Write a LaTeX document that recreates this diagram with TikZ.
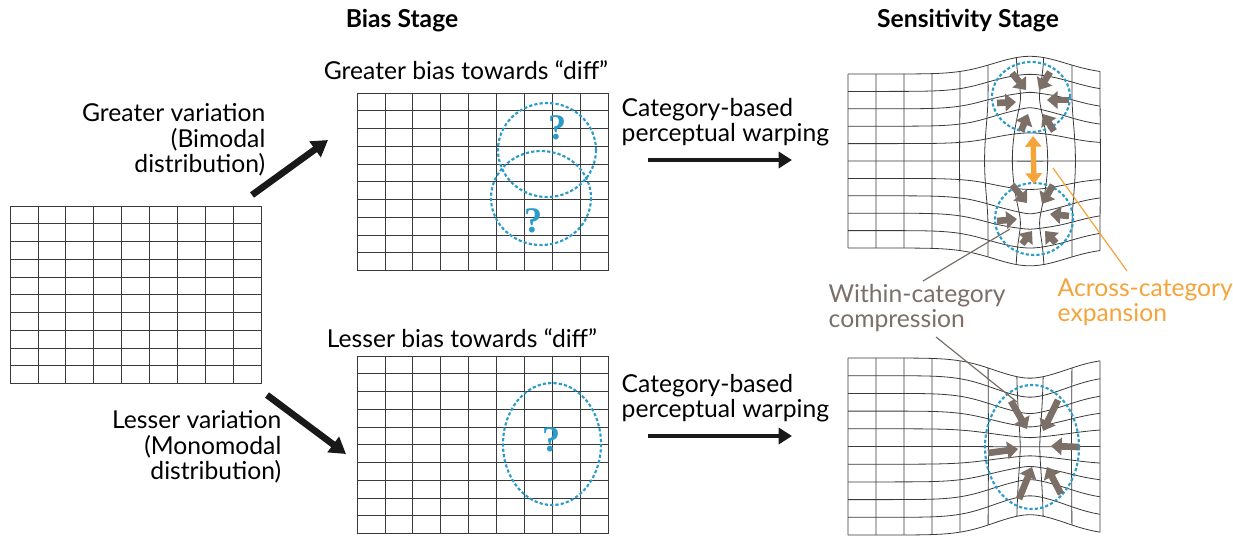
\documentclass[tikz,border=0pt]{standalone}
\usepackage{fontspec}
\setmainfont{Lato}
\newfontfamily\qfont{Liberation Serif}
\usepackage{xcolor}
\definecolor{catBlue}{HTML}{2B9BC9}
\definecolor{compBrown}{HTML}{7B6F67}
\definecolor{expOrange}{HTML}{F5A33B}
\definecolor{gridGray}{HTML}{3A3A3A}
\usetikzlibrary{arrows.meta,positioning,calc}

\begin{document}
\begin{tikzpicture}[x=0.75pt,y=-0.75pt,font=\fontsize{18.5}{19}\selectfont,
  gridline/.style={gridGray,line width=0.6pt},
  bigarrow/.style={-{Triangle[length=12pt,width=14pt]},line width=5pt,black!90},
  warparrow/.style={-{Triangle[length=10pt,width=12pt]},line width=3.6pt,black!90},
  catcircle/.style={catBlue,line width=1.6pt,dash pattern=on 2.4pt off 1.6pt},
  comparrow/.style={-{Triangle[length=8pt,width=13pt]},line width=5pt,compBrown},
  exparrow/.style={{Triangle[length=8pt,width=12pt]}-{Triangle[length=8pt,width=12pt]},line width=4pt,expOrange},
  callout/.style={line width=0.9pt},
  title/.style={font=\fontsize{18.5}{20}\selectfont\bfseries},
  qmark/.style={font=\qfont\fontsize{27}{27}\selectfont\bfseries,text=catBlue,inner sep=0pt},
  declare function={
    gs(\u,\s)=exp(-min((\u/\s)*(\u/\s),20));
    tdx(\a,\b)=0.35*(\a-1030)*gs(\a-1030,35)*gs(\b-161,40)-0.6*(\a-1030)*gs(\a-1030,22)*(gs(\b-116,25)+gs(\b-204,25));
    tdy(\a,\b)=0.5*(\b-161)*gs(\a-1030,50)*gs(\b-161,93)-0.4*gs(\a-1030,30)*((\b-116)*gs(\b-116,22)+(\b-204)*gs(\b-204,22));
    bdx(\a,\b)=-0.45*(\a-1030)*gs(\a-1030,22)*gs(\b-447,70);
    bdy(\a,\b)=-0.5*(\b-447)*gs(\a-1030,50)*gs(\b-447,100);
  }]
  \useasboundingbox (0,0) rectangle (1233,537);

  \node[title] (biast) at (402,21) {Bias Stage};
  \node[title] (senst) at (968,21) {Sensitivity Stage};

  % flat grids
  \foreach \gx/\gy in {10/206,357/93,357/356}{
    \foreach \i in {0,...,9} \draw[gridline] (\gx+\i*27.9,\gy) -- (\gx+\i*27.9,\gy+177.5);
    \foreach \j in {0,...,10} \draw[gridline] (\gx,\gy+\j*17.75) -- (\gx+251,\gy+\j*17.75);
  }

  % warped grids
  \foreach \j in {0,...,10}{
    \pgfmathsetmacro{\yy}{74+17.4*\j}
    \draw[gridline] plot[variable=\t,domain=848:1100,samples=64] ({\t+tdx(\t,\yy)},{\yy+tdy(\t,\yy)});
    \pgfmathsetmacro{\yb}{358+17.7*\j}
    \draw[gridline] plot[variable=\t,domain=848:1100,samples=64] ({\t+bdx(\t,\yb)},{\yb+bdy(\t,\yb)});
  }
  \foreach \i in {0,...,9}{
    \pgfmathsetmacro{\xx}{848+28*\i}
    \draw[gridline] plot[variable=\t,domain=74:248,samples=48] ({\xx+tdx(\xx,\t)},{\t+tdy(\xx,\t)});
    \draw[gridline] plot[variable=\t,domain=358:535,samples=48] ({\xx+bdx(\xx,\t)},{\t+bdy(\xx,\t)});
  }

  \node (gvar) [anchor=east,align=right] at (270,140) {Greater variation\\(Bimodal\\distribution)};
  \node (lvar) [anchor=east,align=right] at (286,447) {Lesser variation\\(Monomodal\\distribution)};
  \coordinate (up0) at (252,195);
  \coordinate (up1) at (328,140);
  \coordinate (dn0) at (267,395);
  \coordinate (dn1) at (346,454);
  \draw[bigarrow] (up0) -- (up1);
  \draw[bigarrow] (dn0) -- (dn1);

  \node (gbias) at (466,70) {Greater bias towards “diff”};
  \node (lbias) at (462,338) {Lesser bias towards “diff”};
  \draw[catcircle] (547,150) ellipse [x radius=49,y radius=47];
  \draw[catcircle] (541,198) ellipse [x radius=50,y radius=47];
  \draw[catcircle] (552,444) ellipse [x radius=49,y radius=61];
  \node[qmark] (q1) at (557,128) {?};
  \node[qmark] (q2) at (533,221) {?};
  \node[qmark] (q3) at (551,440) {?};

  \node (warp1) [anchor=west,align=left] at (617,122) {Category-based\\perceptual warping};
  \node (warp2) [anchor=west,align=left] at (617,398) {Category-based\\perceptual warping};
  \coordinate (wa0) at (648,160);
  \coordinate (wa1) at (792,160);
  \coordinate (wb0) at (648,436);
  \coordinate (wb1) at (792,436);
  \draw[warparrow] (wa0) -- (wa1);
  \draw[warparrow] (wb0) -- (wb1);

  \coordinate (c1) at (1031,97);
  \coordinate (c2) at (1034,219);
  \coordinate (c3) at (1032,447);
  \draw[catcircle] (c1) ellipse [x radius=39,y radius=35];
  \draw[catcircle] (c2) ellipse [x radius=39,y radius=36];
  \draw[catcircle] (c3) ellipse [x radius=47,y radius=62];
  \foreach \ax/\ay/\bx/\by in {-19/-24/-5/-7,19/-25/8/-7,-34/6/-15/5,38/3/16/3,-10/34/-3/17,23/34/12/17}
    \draw[comparrow] ([shift={(\ax,\ay)}]c1) -- ([shift={(\bx,\by)}]c1);
  \foreach \ax/\ay/\bx/\by in {-22/-34/-7/-16,19/-34/8/-15,-37/2/-17/0,35/-3/16/-5,-12/25/-2/12,22/24/11/12}
    \draw[comparrow] ([shift={(\ax,\ay)}]c2) -- ([shift={(\bx,\by)}]c2);
  \foreach \ax/\ay/\bx/\by in {-21/-46/-5/-18,26/-47/11/-16,-44/6/-14/2,47/0/19/-1,-13/52/0/20,29/47/15/20}
    \draw[comparrow] ([shift={(\ax,\ay)}]c3) -- ([shift={(\bx,\by)}]c3);
  \coordinate (ex0) at (1033,136);
  \coordinate (ex1) at (1034,184);
  \draw[exparrow] (ex0) -- (ex1);

  \node (within) [anchor=west,align=left,text=compBrown] at (824,308) {Within-category\\compression};
  \node (across) [anchor=west,align=left,text=expOrange] at (1053,302) {Across-category\\expansion};
  \coordinate (wt0) at (923,281);
  \coordinate (wt1) at (1010,229);
  \coordinate (wt2) at (936,337);
  \coordinate (wt3) at (1017,402);
  \coordinate (ac0) at (1127,271);
  \coordinate (ac1) at (1053,168);
  \draw[callout,compBrown] (wt0) -- (wt1);
  \draw[callout,compBrown] (wt2) -- (wt3);
  \draw[callout,expOrange] (ac0) -- (ac1);
\end{tikzpicture}
\end{document}
